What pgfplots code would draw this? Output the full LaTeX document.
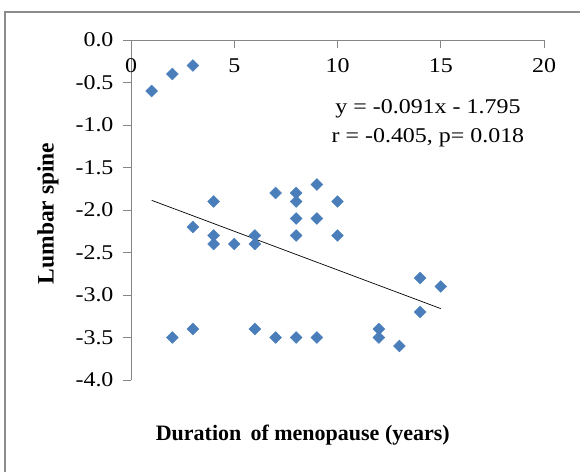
\documentclass[border=0pt]{standalone}
\usepackage{pgfplots}
\pgfplotsset{compat=1.18}
\usepackage{fontspec}
\setmainfont{Liberation Serif}
\newfontfamily\tickfont{Liberation Serif}[FakeStretch=1.14]
\definecolor{axgray}{RGB}{134,134,134}
\definecolor{frgray}{RGB}{140,140,140}
\definecolor{ptblue}{RGB}{74,126,187}
\begin{document}
\begin{tikzpicture}[x=1pt,y=1pt]
\path[use as bounding box] (0,0) rectangle (580,-472);
\draw[frgray, line width=1.6pt] (5,-472) -- (5,-12) -- (580,-12);
\begin{axis}[
  at={(131pt,-40pt)}, anchor=north west,
  scale only axis, width=413pt, height=340pt,
  xmin=0, xmax=20, ymin=-4, ymax=0,
  axis x line*=top, axis y line*=left,
  axis line style={axgray, line width=0.9pt},
  xtick={0,5,10,15,20},
  ytick={-4,-3.5,-3,-2.5,-2,-1.5,-1,-0.5,0},
  tick align=inside,
  major tick length=8pt,
  tick style={axgray, line width=0.9pt},
  ytick style={xshift=-8pt},
  /pgf/number format/assume math mode=true,
  yticklabel style={/pgf/number format/fixed, /pgf/number format/fixed zerofill, /pgf/number format/precision=1, xshift=-14pt},
  every tick label/.append style={font=\tickfont\fontsize{21}{25}\selectfont, text=black},
  xticklabel style={anchor=north, yshift=-15pt},
  xlabel={Duration \,of menopause (years)},
  ylabel={Lumbar spine},
  xlabel style={at={(axis description cs:0.416,-0.162)}, anchor=center, font=\bfseries\fontsize{22}{26}\selectfont},
  ylabel style={at={(axis description cs:-0.201,0.49)}, anchor=center, font=\bfseries\fontsize{23.5}{27}\selectfont},
  clip=false,
]
\addplot[only marks, mark=square*, mark size=4.2pt, mark options={rotate=45, fill=ptblue, draw=ptblue}] coordinates {
(1,-0.6) (2,-0.4) (3,-0.3)
(2,-3.5) (3,-2.2) (3,-3.4)
(4,-1.9) (4,-2.3) (4,-2.4) (5,-2.4)
(6,-2.3) (6,-2.4) (6,-3.4)
(7,-1.8) (7,-3.5)
(8,-1.8) (8,-1.9) (8,-2.1) (8,-2.3) (8,-3.5)
(9,-1.7) (9,-2.1) (9,-3.5)
(10,-1.9) (10,-2.3)
(12,-3.4) (12,-3.5) (13,-3.6)
(14,-2.8) (14,-3.2) (15,-2.9)
};
\addplot[black, line width=0.7pt] coordinates {(1,-1.886) (15,-3.16)};
\node[align=center, font=\tickfont\fontsize{21}{29}\selectfont] at (axis cs:14.38,-0.98) {y = -0.091x - 1.795\\r = -0.405, p= 0.018};
\end{axis}
\end{tikzpicture}
\end{document}
